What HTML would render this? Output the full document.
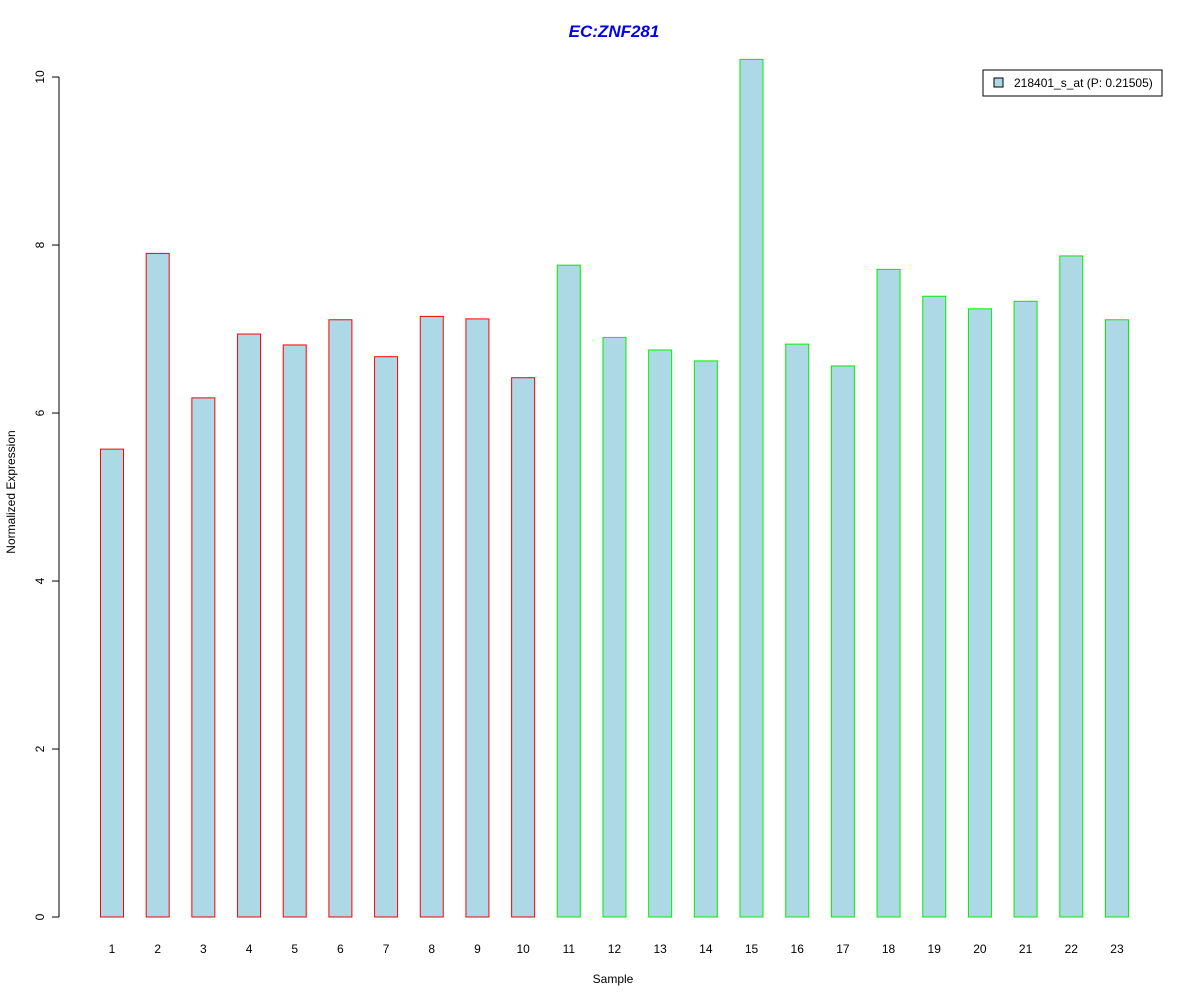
<!DOCTYPE html>
<html><head><meta charset="utf-8"><style>
html,body{margin:0;padding:0;background:#fff;}
svg{display:block;font-family:"Liberation Sans",Arial,sans-serif;}
</style></head><body>
<svg id="chart" width="1200" height="1000">
<text x="614" y="37" text-anchor="middle" font-size="17" font-weight="bold" font-style="italic" fill="#0000ee">EC:ZNF281</text>
<text x="613" y="983" text-anchor="middle" font-size="12">Sample</text>
<text transform="translate(15,492) rotate(-90)" text-anchor="middle" font-size="12">Normalized Expression</text>
<g id="yaxis"></g>
<g id="bars"></g>
<g id="xlabels"></g>
<g>
<rect x="983" y="70" width="179" height="26" fill="#fff" stroke="#000" stroke-width="1"/>
<rect x="994" y="78" width="9" height="9" fill="#add8e6" stroke="#000" stroke-width="1"/>
<text x="1014" y="87" font-size="12">218401_s_at (P: 0.21505)</text>
</g>
</svg>
<script>
const categories=["1","2","3","4","5","6","7","8","9","10","11","12","13","14","15","16","17","18","19","20","21","22","23"];
const values=[5.57,7.90,6.18,6.94,6.81,7.11,6.67,7.15,7.12,6.42,7.76,6.90,6.75,6.62,10.21,6.82,6.56,7.71,7.39,7.24,7.33,7.87,7.11];
const groups=["a","a","a","a","a","a","a","a","a","a","b","b","b","b","b","b","b","b","b","b","b","b","b"];
const yTicks=[0,2,4,6,8,10];
const NS="http://www.w3.org/2000/svg";
function y(v){return 917-v*84;}
function x(i){return 100+i*45.68;}
const ya=document.getElementById('yaxis');
let l=document.createElementNS(NS,'line');
l.setAttribute('x1',59);l.setAttribute('x2',59);l.setAttribute('y1',y(0));l.setAttribute('y2',y(10));l.setAttribute('stroke','#000');


ya.appendChild(l);
yTicks.forEach(t=>{
 const tk=document.createElementNS(NS,'line');
 tk.setAttribute('x1',52);tk.setAttribute('x2',59);tk.setAttribute('y1',y(t));tk.setAttribute('y2',y(t));tk.setAttribute('stroke','#000');
 
 
 ya.appendChild(tk);
 const tx=document.createElementNS(NS,'text');
 tx.setAttribute('transform','translate(44,'+y(t)+') rotate(-90)');
 tx.setAttribute('text-anchor','middle');tx.setAttribute('font-size','12');
 tx.textContent=t;
 
 
 ya.appendChild(tx);
});
const bg=document.getElementById('bars'),xl=document.getElementById('xlabels');
values.forEach((v,i)=>{
 const r=document.createElementNS(NS,'rect');
 r.setAttribute('x',x(i)+0.5);r.setAttribute('y',y(v));r.setAttribute('width',23);r.setAttribute('height',y(0)-y(v));
 r.setAttribute('fill','#add8e6');r.setAttribute('stroke',groups[i]==='a'?'#ff0000':'#00ee00');
 
 
 bg.appendChild(r);
 const t=document.createElementNS(NS,'text');
 t.setAttribute('x',x(i)+12);t.setAttribute('y',953);t.setAttribute('text-anchor','middle');t.setAttribute('font-size','12');
 t.textContent=categories[i];
 
 
 xl.appendChild(t);
});
</script>
</body></html>
